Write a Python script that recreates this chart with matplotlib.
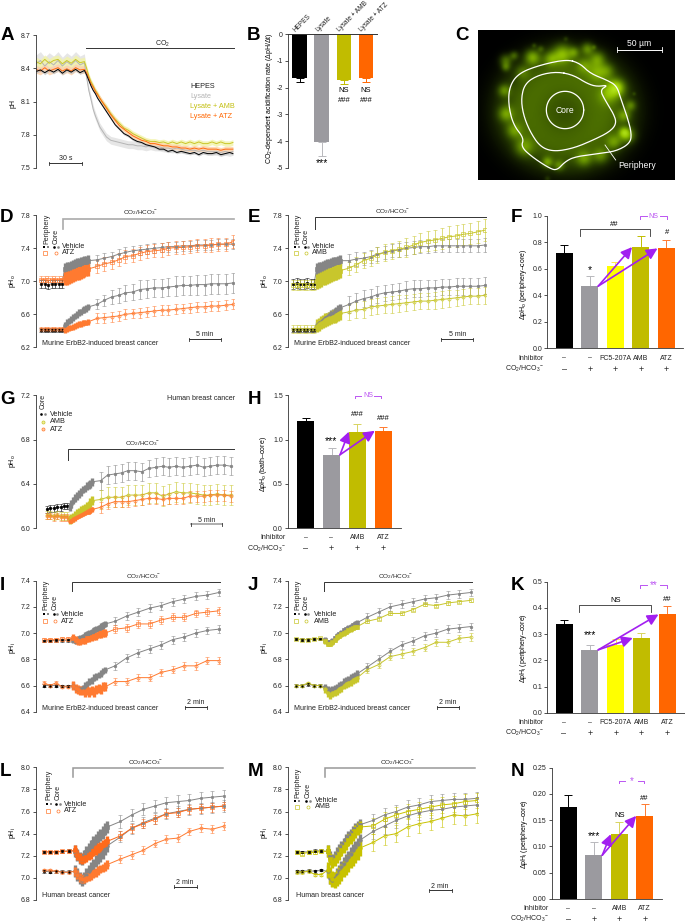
import numpy as np
import matplotlib
matplotlib.use('Agg')
import matplotlib.pyplot as plt
from matplotlib.colors import LinearSegmentedColormap

plt.rcParams['font.family'] = ['Liberation Sans', 'DejaVu Sans']
plt.rcParams['font.size'] = 5
plt.rcParams['mathtext.fontset'] = 'custom'
plt.rcParams['mathtext.rm'] = 'Liberation Sans'
plt.rcParams['mathtext.it'] = 'Liberation Sans'
plt.rcParams['mathtext.bf'] = 'Liberation Sans:bold'
plt.rcParams['mathtext.default'] = 'regular'

BLACK = '#000000'
GREY = '#858585'
BARGREY = '#9b9a9f'
OLIVE = '#c1bc00'
YELLOW = '#ffff00'
ORANGE = '#ff6600'
PURPLE = '#a21ff0'
LILAC = '#bb55f2'
CO2 = 'CO$_2$/HCO$_3$$^{-}$'

# ---- panel A
t_a = [0, 4, 8, 12, 16, 20, 24, 28, 32, 36, 40, 44, 46, 48, 50, 52, 54, 56, 58, 60,
       64, 68, 72, 76, 80, 84, 88, 92, 96, 100, 104, 108, 112, 116, 120, 124, 128, 132,
       136, 140, 144, 148, 152, 156, 160, 164, 168, 172, 176, 179]
a_hepes = [8.37, 8.385, 8.36, 8.385, 8.365, 8.39, 8.355, 8.385, 8.365, 8.39, 8.36, 8.38,
           8.34, 8.29, 8.24, 8.20, 8.17, 8.13, 8.10, 8.07,
           8.01, 7.95, 7.89, 7.85, 7.81, 7.79, 7.76, 7.74, 7.73, 7.71, 7.70, 7.69, 7.67, 7.67, 7.65,
           7.66, 7.64, 7.65, 7.64, 7.63, 7.64, 7.62, 7.64, 7.63, 7.63, 7.64, 7.62, 7.63, 7.64, 7.63]
a_lysate = [8.44, 8.47, 8.42, 8.46, 8.43, 8.47, 8.42, 8.46, 8.43, 8.47, 8.43, 8.45,
            8.32, 8.20, 8.12, 8.03, 7.97, 7.92, 7.87, 7.84,
            7.78, 7.75, 7.74, 7.73, 7.72, 7.71, 7.71, 7.70, 7.70, 7.69, 7.70, 7.69, 7.69, 7.68, 7.68,
            7.67, 7.68, 7.67, 7.66, 7.66, 7.66, 7.65, 7.66, 7.65, 7.65, 7.65, 7.64, 7.65, 7.64, 7.65]
a_amb = [8.46, 8.44, 8.48, 8.445, 8.47, 8.48, 8.44, 8.47, 8.445, 8.48, 8.45, 8.46,
         8.40, 8.33, 8.28, 8.24, 8.20, 8.17, 8.13, 8.10,
         8.05, 7.99, 7.94, 7.90, 7.86, 7.84, 7.81, 7.79, 7.77, 7.75, 7.74, 7.74, 7.73, 7.735, 7.72,
         7.735, 7.72, 7.735, 7.72, 7.735, 7.72, 7.735, 7.72, 7.72, 7.735, 7.72, 7.735, 7.72, 7.72, 7.73]
a_atz = [8.39, 8.375, 8.405, 8.375, 8.39, 8.405, 8.375, 8.395, 8.375, 8.405, 8.385, 8.39,
         8.36, 8.31, 8.26, 8.23, 8.19, 8.16, 8.13, 8.10,
         8.04, 7.98, 7.93, 7.88, 7.85, 7.82, 7.79, 7.77, 7.75, 7.74, 7.72, 7.72, 7.71, 7.70, 7.70,
         7.69, 7.69, 7.68, 7.68, 7.67, 7.68, 7.67, 7.68, 7.67, 7.67, 7.67, 7.66, 7.67, 7.67, 7.67]

# ---- panel B
b_names = ['HEPES', 'Lysate', 'Lysate + AMB', 'Lysate + ATZ']
b_vals = [-1.62, -4.05, -1.70, -1.62]
b_errs = [0.15, 0.50, 0.15, 0.18]

# ---- time points for the pH traces (minutes from the start of CO2/HCO3-)
t_slow = [-3.3, -2.75, -2.2, -1.65, -1.1, -0.55, -0.1,
          0.3, 0.6, 0.9, 1.2, 1.5, 1.8, 2.1, 2.4, 2.7, 3.0, 3.3, 3.6, 3.9,
          5.2, 6.3, 7.4, 8.5, 9.5, 10.6, 11.7, 12.8, 13.9, 15.0, 16.0, 17.1, 18.2, 19.3,
          20.4, 21.5, 22.5, 23.6, 24.7, 25.8]
t_fast = [-2.46, -1.96, -1.43, -0.9, -0.4,
          0.1, 0.3, 0.5, 0.7, 0.9, 1.1, 1.3, 1.5, 1.7, 1.9, 2.1, 2.3, 2.5, 2.7, 2.9,
          3.75, 4.76, 5.77, 6.78, 7.79, 8.8, 9.81, 10.82, 11.83, 12.85]
t_lm = [-2.5, -2.0, -1.45, -0.9, -0.35,
        0.2, 0.4, 0.6, 0.8, 1.0, 1.2, 1.4, 1.6, 1.8, 2.0, 2.2, 2.4, 2.6, 2.8, 3.0,
        4.15, 5.15, 6.15, 7.15, 8.15, 9.15, 10.15, 11.15, 12.15, 13.2]

# ---- panel D
d_veh_per = [6.97, 6.97, 6.96, 6.97, 6.97, 6.97, 6.97,
             7.15, 7.16, 7.17, 7.18, 7.19, 7.20, 7.21, 7.21, 7.22, 7.23, 7.24, 7.24, 7.25,
             7.26, 7.28, 7.30, 7.33, 7.35, 7.37, 7.38, 7.39, 7.40, 7.41, 7.42, 7.42, 7.43, 7.43, 7.44, 7.44, 7.44, 7.45, 7.45, 7.45]
d_veh_core = [6.41, 6.41, 6.41, 6.41, 6.41, 6.41, 6.41,
              6.47, 6.50, 6.52, 6.54, 6.56, 6.58, 6.60, 6.62, 6.63, 6.65, 6.66, 6.67, 6.69,
              6.72, 6.77, 6.81, 6.83, 6.86, 6.87, 6.90, 6.91, 6.92, 6.92, 6.93, 6.94, 6.95, 6.95, 6.96, 6.96, 6.97, 6.97, 6.97, 6.98]
d_atz_per = [7.02, 7.02, 7.01, 7.02, 7.02, 7.02, 7.02,
             7.03, 7.04, 7.05, 7.06, 7.07, 7.08, 7.09, 7.10, 7.11, 7.12, 7.13, 7.14, 7.15,
             7.18, 7.21, 7.23, 7.26, 7.30, 7.31, 7.34, 7.36, 7.37, 7.38, 7.40, 7.41, 7.41, 7.42, 7.43, 7.43, 7.44, 7.45, 7.45, 7.48]
d_atz_core = [6.42, 6.42, 6.42, 6.42, 6.42, 6.42, 6.42,
              6.41, 6.42, 6.43, 6.44, 6.45, 6.46, 6.47, 6.48, 6.48, 6.49, 6.50, 6.50, 6.51,
              6.55, 6.56, 6.57, 6.58, 6.60, 6.61, 6.62, 6.63, 6.64, 6.65, 6.65, 6.66, 6.67, 6.68, 6.69, 6.69, 6.70, 6.70, 6.71, 6.72]

# ---- panel E
e_veh_per = [6.97, 6.98, 6.97, 6.97, 6.98, 6.97, 6.97,
             7.15, 7.16, 7.17, 7.18, 7.19, 7.20, 7.20, 7.21, 7.22, 7.23, 7.23, 7.24, 7.25,
             7.25, 7.27, 7.28, 7.30, 7.33, 7.35, 7.37, 7.38, 7.40, 7.41, 7.42, 7.42, 7.43, 7.43, 7.43, 7.43, 7.43, 7.43, 7.43, 7.44]
e_veh_core = [6.41, 6.41, 6.41, 6.41, 6.41, 6.41, 6.41,
              6.47, 6.49, 6.51, 6.53, 6.55, 6.57, 6.59, 6.61, 6.62, 6.64, 6.65, 6.67, 6.68,
              6.72, 6.76, 6.79, 6.81, 6.84, 6.86, 6.87, 6.88, 6.90, 6.91, 6.91, 6.92, 6.92, 6.93, 6.93, 6.94, 6.94, 6.94, 6.94, 6.95]
e_amb_per = [6.95, 6.95, 6.96, 6.95, 6.95, 6.95, 6.95,
             7.00, 7.01, 7.02, 7.04, 7.05, 7.06, 7.07, 7.08, 7.09, 7.10, 7.11, 7.12, 7.13,
             7.16, 7.20, 7.25, 7.28, 7.32, 7.35, 7.37, 7.39, 7.41, 7.44, 7.47, 7.49, 7.50, 7.52, 7.54, 7.55, 7.57, 7.58, 7.60, 7.62]
e_amb_core = [6.42, 6.42, 6.42, 6.42, 6.42, 6.42, 6.42,
              6.46, 6.48, 6.50, 6.51, 6.53, 6.54, 6.55, 6.56, 6.57, 6.58, 6.59, 6.60, 6.61,
              6.63, 6.65, 6.66, 6.69, 6.70, 6.71, 6.72, 6.73, 6.74, 6.75, 6.76, 6.76, 6.77, 6.78, 6.79, 6.80, 6.81, 6.82, 6.82, 6.83]

# ---- panel G
g_veh = [6.17, 6.18, 6.18, 6.19, 6.19, 6.20, 6.20,
         6.19, 6.22, 6.25, 6.27, 6.29, 6.31, 6.33, 6.35, 6.36, 6.38, 6.39, 6.40, 6.42,
         6.43, 6.48, 6.49, 6.50, 6.52, 6.52, 6.51, 6.54, 6.55, 6.56, 6.55, 6.56, 6.55, 6.56, 6.57, 6.55, 6.56, 6.57, 6.57, 6.56]
g_amb = [6.12, 6.12, 6.11, 6.12, 6.11, 6.11, 6.11,
         6.08, 6.09, 6.10, 6.12, 6.13, 6.14, 6.16, 6.17, 6.18, 6.20, 6.21, 6.23, 6.25,
         6.26, 6.28, 6.28, 6.28, 6.30, 6.30, 6.30, 6.32, 6.32, 6.29, 6.31, 6.33, 6.32, 6.32, 6.31, 6.30, 6.30, 6.31, 6.30, 6.30]
g_atz = [6.11, 6.11, 6.10, 6.11, 6.10, 6.10, 6.10,
         6.07, 6.07, 6.08, 6.09, 6.10, 6.11, 6.12, 6.13, 6.14, 6.15, 6.15, 6.16, 6.17,
         6.19, 6.22, 6.24, 6.24, 6.24, 6.25, 6.26, 6.27, 6.27, 6.26, 6.27, 6.27, 6.27, 6.29, 6.29, 6.29, 6.30, 6.30, 6.30, 6.29]

# ---- panel I
i_veh_per = [6.94, 6.94, 6.945, 6.945, 6.945,
             6.95, 6.94, 6.95, 6.96, 6.97, 6.98, 6.99, 7.00, 7.01, 7.02, 7.03, 7.04, 7.05, 7.06, 7.07,
             7.09, 7.13, 7.16, 7.19, 7.21, 7.24, 7.26, 7.28, 7.29, 7.31]
i_veh_core = [6.60, 6.60, 6.60, 6.595, 6.595,
              6.60, 6.58, 6.57, 6.57, 6.58, 6.60, 6.61, 6.63, 6.64, 6.66, 6.67, 6.68, 6.69, 6.71, 6.72,
              6.75, 6.81, 6.85, 6.88, 6.91, 6.95, 6.97, 7.00, 7.02, 7.03]
i_atz_per = [6.95, 6.95, 6.95, 6.955, 6.955,
             6.96, 6.95, 6.94, 6.94, 6.95, 6.95, 6.96, 6.96, 6.97, 6.98, 6.98, 6.99, 6.99, 7.00, 7.00,
             7.03, 7.04, 7.07, 7.07, 7.10, 7.12, 7.12, 7.15, 7.16, 7.17]
i_atz_core = [6.62, 6.60, 6.62, 6.59, 6.59,
              6.60, 6.58, 6.57, 6.56, 6.56, 6.55, 6.56, 6.55, 6.56, 6.55, 6.57, 6.58, 6.57, 6.59, 6.59,
              6.63, 6.63, 6.66, 6.66, 6.70, 6.72, 6.75, 6.75, 6.79, 6.79]

# ---- panel J
j_veh_per = [6.955, 6.95, 6.95, 6.955, 6.955,
             6.95, 6.93, 6.93, 6.94, 6.96, 6.98, 6.99, 7.00, 7.02, 7.03, 7.04, 7.05, 7.06, 7.07, 7.08,
             7.12, 7.16, 7.20, 7.22, 7.24, 7.26, 7.27, 7.29, 7.30, 7.31]
j_veh_core = [6.60, 6.60, 6.61, 6.60, 6.60,
              6.59, 6.57, 6.56, 6.57, 6.58, 6.59, 6.60, 6.61, 6.63, 6.64, 6.65, 6.66, 6.67, 6.68, 6.69,
              6.74, 6.80, 6.86, 6.91, 6.94, 6.98, 7.00, 7.03, 7.04, 7.05]
j_amb_per = [6.955, 6.95, 6.95, 6.955, 6.96,
             6.94, 6.92, 6.92, 6.93, 6.95, 6.97, 6.98, 6.99, 7.00, 7.01, 7.02, 7.03, 7.04, 7.05, 7.05,
             7.09, 7.11, 7.15, 7.15, 7.18, 7.22, 7.21, 7.23, 7.24, 7.25]
j_amb_core = [6.60, 6.60, 6.62, 6.60, 6.60,
              6.57, 6.54, 6.53, 6.54, 6.55, 6.56, 6.57, 6.58, 6.60, 6.61, 6.62, 6.63, 6.64, 6.65, 6.66,
              6.72, 6.76, 6.82, 6.84, 6.86, 6.89, 6.93, 6.93, 6.96, 6.97]

# ---- panel L
l_veh_per = [7.235, 7.235, 7.235, 7.24, 7.245,
             7.24, 7.21, 7.18, 7.17, 7.20, 7.23, 7.26, 7.29, 7.32, 7.34, 7.37, 7.39, 7.41, 7.44, 7.46,
             7.51, 7.57, 7.62, 7.65, 7.68, 7.69, 7.70, 7.72, 7.73, 7.74]
l_veh_core = [7.06, 7.055, 7.06, 7.055, 7.055,
              7.06, 7.03, 7.00, 6.98, 7.00, 7.03, 7.06, 7.09, 7.12, 7.15, 7.18, 7.20, 7.23, 7.26, 7.29,
              7.37, 7.45, 7.50, 7.54, 7.58, 7.60, 7.62, 7.63, 7.64, 7.65]
l_atz_per = [7.235, 7.235, 7.235, 7.24, 7.24,
             7.25, 7.21, 7.18, 7.17, 7.18, 7.19, 7.21, 7.22, 7.24, 7.25, 7.27, 7.28, 7.30, 7.31, 7.33,
             7.38, 7.45, 7.49, 7.53, 7.58, 7.59, 7.62, 7.63, 7.64, 7.65]
l_atz_core = [7.07, 7.07, 7.06, 7.05, 7.05,
              7.06, 7.03, 7.00, 6.99, 6.99, 7.00, 7.01, 7.02, 7.04, 7.05, 7.07, 7.08, 7.09, 7.10, 7.12,
              7.17, 7.21, 7.25, 7.31, 7.35, 7.36, 7.42, 7.45, 7.44, 7.47]

# ---- panel M
m_veh_per = [7.235, 7.235, 7.235, 7.245, 7.245,
             7.24, 7.19, 7.16, 7.19, 7.22, 7.25, 7.28, 7.31, 7.34, 7.37, 7.39, 7.41, 7.44, 7.46, 7.48,
             7.52, 7.57, 7.60, 7.64, 7.66, 7.69, 7.70, 7.71, 7.71, 7.72]
m_veh_core = [7.06, 7.06, 7.065, 7.06, 7.07,
              7.06, 7.00, 6.98, 7.00, 7.03, 7.06, 7.10, 7.13, 7.16, 7.19, 7.22, 7.25, 7.28, 7.31, 7.34,
              7.42, 7.47, 7.52, 7.56, 7.59, 7.61, 7.62, 7.64, 7.65, 7.66]
m_amb_per = [7.23, 7.22, 7.23, 7.23, 7.24,
             7.24, 7.17, 7.14, 7.16, 7.19, 7.22, 7.25, 7.28, 7.31, 7.34, 7.36, 7.39, 7.42, 7.44, 7.46,
             7.47, 7.53, 7.57, 7.60, 7.62, 7.64, 7.66, 7.67, 7.69, 7.70]
m_amb_core = [7.05, 7.05, 7.06, 7.03, 7.03,
              7.07, 7.02, 6.99, 6.98, 7.00, 7.02, 7.05, 7.08, 7.10, 7.13, 7.16, 7.18, 7.21, 7.24, 7.27,
              7.32, 7.38, 7.40, 7.46, 7.49, 7.51, 7.54, 7.57, 7.56, 7.58]

# ---- bar panels
f_vals = [0.72, 0.47, 0.62, 0.765, 0.755]
f_errs = [0.06, 0.075, 0.035, 0.085, 0.06]
f_inhib = ['–', '–', 'FC5-207A', 'AMB', 'ATZ']
f_co2 = ['–', '+', '+', '+', '+']
h_vals = [1.21, 0.83, 1.09, 1.10]
h_errs = [0.03, 0.075, 0.09, 0.04]
h_inhib = ['–', '–', 'AMB', 'ATZ']
h_co2 = ['–', '+', '+', '+']
k_vals = [0.34, 0.24, 0.26, 0.285, 0.375]
k_errs = [0.013, 0.017, 0.02, 0.02, 0.034]
n_vals = [0.175, 0.083, 0.123, 0.158]
n_errs = [0.023, 0.025, 0.023, 0.022]

# ---- panel C picture, given in units of 1/3 pixel: x, y, radius, brightness
c_spots = [(165, 135, 13, .34), (190, 120, 9, .28), (245, 125, 16, .48), (270, 100, 7, .18), (335, 115, 20, .5),
           (370, 110, 11, .3), (410, 100, 13, .38), (440, 130, 16, .38), (470, 165, 15, .24), (500, 215, 16, .34),
           (540, 270, 11, .3), (520, 300, 13, .34), (530, 360, 16, .42), (490, 220, 20, .32), (160, 225, 13, .34),
           (165, 295, 16, .38), (190, 345, 16, .32), (220, 395, 19, .34), (290, 440, 11, .38), (325, 450, 11, .3),
           (400, 430, 16, .32), (450, 420, 16, .3), (490, 380, 16, .34), (165, 155, 9, .28), (215, 170, 15, .22),
           (300, 130, 15, .34), (440, 170, 19, .32), (470, 240, 19, .22), (520, 350, 11, .4), (400, 150, 16, .28),
           (345, 70, 5, .12), (250, 90, 5, .15), (430, 95, 5, .18), (550, 235, 4, .12), (290, 490, 6, .12)]
c_outer = [(350, 133), (390, 145), (420, 175), (470, 195), (500, 212), (512, 250), (530, 300), (545, 355),
           (540, 385), (500, 408), (450, 415), (375, 425), (345, 440), (320, 467), (295, 458), (245, 425),
           (213, 395), (222, 370), (190, 330), (175, 270), (178, 215), (205, 175), (270, 150)]
c_inner = [(320, 170), (370, 180), (410, 205), (440, 215), (475, 210), (450, 225), (465, 255), (490, 295),
           (500, 325), (480, 350), (430, 375), (370, 400), (310, 410), (270, 395), (240, 350), (220, 300),
           (213, 250), (225, 205), (265, 180)]

fig = plt.figure(figsize=(6.85, 9.24), dpi=100)


def px_axes(left, right, top, bottom):
    ax = fig.add_axes([left / 685, 1 - bottom / 924, (right - left) / 685, (bottom - top) / 924])
    ax.patch.set_alpha(0)
    for s in ['top', 'right']:
        ax.spines[s].set_visible(False)
    for s in ax.spines.values():
        s.set_linewidth(0.6)
        s.set_color('#333333')
    ax.tick_params(length=2.2, width=0.6, pad=1.5, labelsize=5, color='#333333', labelcolor='#222222')
    return ax


def trace_axes(left, right, top, bottom, ylim, yticks, t0_px, px_per_min):
    ax = px_axes(left, right, top, bottom)
    ax.set_xlim((left - t0_px) / px_per_min, (right - t0_px) / px_per_min)
    ax.set_ylim(*ylim)
    ax.set_yticks(yticks)
    ax.set_yticklabels(['%.1f' % v for v in yticks])
    ax.spines['bottom'].set_visible(False)
    ax.set_xticks([])
    return ax


def series(ax, t, vals, n_base, n_blob, errs, color, marker, vehicle=False):
    # baseline, dense part after the switch, sparse late part
    t = np.array(t)
    vals = np.array(vals)
    ax.plot(t, vals, color=color, lw=0.7, zorder=3)
    parts = [(0, n_base), (n_base, n_base + n_blob), (n_base + n_blob, len(t))]
    for k, (a, b) in enumerate(parts):
        c = BLACK if (vehicle and k == 0) else color
        ax.errorbar(t[a:b], vals[a:b], yerr=errs[k], fmt='none', ecolor=c, capsize=0 if k == 1 else 1.1,
                    elinewidth=2.4 if k == 1 else 0.6, capthick=0.5, alpha=1 if k == 1 else 0.7, zorder=3)
        filled = vehicle or k == 1
        face = c if filled else 'none'
        ax.plot(t[a:b], vals[a:b], ls='none', marker=marker, ms=2.6 if k == 1 else (1.9 if filled else 2.2),
                mfc=face, mec=c, mew=0.45, zorder=4)


def deco(ov, co2_x, co2_y, bar_x0, bar_x1, bar_y, tick_y, bar_col, bar_lw):
    ov.text(co2_x, co2_y, CO2, ha='center', va='center', fontsize=4.6, color='#222222')
    ov.plot([bar_x0, bar_x0, bar_x1], [tick_y, bar_y, bar_y], color=bar_col, lw=bar_lw, solid_joinstyle='miter')


def scale(ov, x0, x1, y, label, ty, col='#333333', lw=0.7):
    ov.plot([x0, x1], [y, y], color=col, lw=lw)
    ov.plot([x0, x0], [y - 1.5, y + 1.5], color='#333333', lw=0.6)
    ov.plot([x1, x1], [y - 1.5, y + 1.5], color='#333333', lw=0.6)
    ov.text((x0 + x1) / 2, ty, label, ha='center', va='center', fontsize=5, color='#222222')


def legend2(ov, xp, xc, tx, y1, y2, ybot, col, name):
    ov.text(xp, ybot, 'Periphery', rotation=90, ha='center', va='bottom', fontsize=5, color='#222222')
    ov.text(xc, ybot, 'Core', rotation=90, ha='center', va='bottom', fontsize=5, color='#222222')
    ov.plot([xp - 2.5], [y1], 's', ms=1.9, color=BLACK, mew=0)
    ov.plot([xp + 1.5], [y1], 's', ms=1.9, color=GREY, mew=0)
    ov.plot([xc - 1.5], [y1], 'o', ms=1.9, color=BLACK, mew=0)
    ov.plot([xc + 2], [y1], 'o', ms=1.9, color=GREY, mew=0)
    ov.plot([xp - 1], [y2], 's', ms=2.2, mfc='none', mec=col, mew=0.5)
    ov.plot([xc], [y2], 'o', ms=2.2, mfc='none', mec=col, mew=0.5)
    ov.text(tx, y1, 'Vehicle', va='center', fontsize=5.2, color='#222222')
    ov.text(tx, y2, name, va='center', fontsize=5.2, color='#222222')


def bars(left, right, top, bottom, centers, vals, errs, cols, ylim, yticks, fmt, ecols=None, bw=17.0):
    ax = px_axes(left, right, top, bottom)
    xs = np.arange(len(vals))
    sp = (centers[-1] - centers[0]) / (len(vals) - 1)
    ax.set_xlim((left - centers[0]) / sp, (right - centers[0]) / sp)
    ax.set_ylim(*ylim)
    ax.set_yticks(yticks)
    ax.set_yticklabels([fmt % v for v in yticks])
    ax.set_xticks([])
    w = bw / sp
    ax.bar(xs, vals, width=w, color=cols, zorder=2)
    ecols = ecols or cols
    for x, v, e, c in zip(xs, vals, errs, ecols):
        if v >= 0:
            ax.errorbar(x, v, yerr=[[0], [e]], fmt='none', ecolor=c, elinewidth=0.7, capsize=3.2, capthick=0.7, zorder=1)
        else:
            ax.errorbar(x, v, yerr=[[e], [0]], fmt='none', ecolor=c, elinewidth=0.7, capsize=3.2, capthick=0.7, zorder=1)
    return ax, w


def arrow(ax, x0, y0, x1, y1):
    ax.annotate('', xy=(x1, y1), xytext=(x0, y0), annotation_clip=False, zorder=6,
                arrowprops=dict(arrowstyle='-|>,head_width=0.3,head_length=0.6', color=PURPLE, lw=1.2,
                                shrinkA=0, shrinkB=0, mutation_scale=11))


def rows(ov, right, y1, y2, centers, inhib, co2):
    ov.text(right, y1, 'Inhibitor', ha='right', va='center', fontsize=5, color='#222222')
    ov.text(right, y2, CO2, ha='right', va='center', fontsize=5, color='#222222')
    for c, a, b in zip(centers, inhib, co2):
        ov.text(c, y1, a, ha='center', va='center', fontsize=5, color='#222222')
        ov.text(c, y2, b, ha='center', va='center', fontsize=6.5, color='#222222')


def bracket(ov, x0, x1, y, tick, col='#333333', lw=0.6):
    ov.plot([x0, x0, x1, x1], [y + tick, y, y, y + tick], color=col, lw=lw)


def purple_ns(ov, x0, x1, y, label, fs=5):
    mid = (x0 + x1) / 2
    gap = 6.5
    ov.plot([x0, x0, mid - gap], [y + 2.5, y, y], color=LILAC, lw=0.7)
    ov.plot([mid + gap, x1, x1], [y, y, y + 2.5], color=LILAC, lw=0.7)
    ov.text(mid, y, label, ha='center', va='center', fontsize=fs, color=LILAC)


def smooth(pts, n=3):
    # corner cutting for the outlines of panel C
    p = np.array(pts, dtype=float)
    for _ in range(n):
        q = np.roll(p, -1, axis=0)
        p = np.column_stack([0.75 * p + 0.25 * q, 0.25 * p + 0.75 * q]).reshape(-1, 2)
    return np.vstack([p, p[:1]])


# ---- A
ax_a = trace_axes(36, 234, 35, 168, (7.5, 8.7), [7.5, 7.8, 8.1, 8.4, 8.7], 36, 1.1)
t_arr = np.array(t_a)
for v, col, band, sd0, sd1 in [(a_lysate, '#b5b5b5', '#e0e0e0', 0.08, 0.035), (a_amb, '#c9c62a', '#f2f3a8', 0.04, 0.025),
                               (a_atz, '#ff6a10', '#ffd0a6', 0.035, 0.025), (a_hepes, BLACK, '#c4c4c4', 0.015, 0.012)]:
    sd = np.where(t_arr < 45, sd0, sd1)
    ax_a.fill_between(t_arr, np.array(v) - sd, np.array(v) + sd, color=band, lw=0, alpha=0.8)
    ax_a.plot(t_arr, v, color=col, lw=0.7)
ax_a.set_xlim(0, 180)

# ---- B
ax_b, wb = bars(288, 377, 34.3, 167.7, [299.7, 321.7, 344, 366], b_vals, b_errs, [BLACK, BARGREY, OLIVE, ORANGE],
                (-5, 0), [0, -1, -2, -3, -4, -5], '%d', [BLACK, '#b8b8bc', OLIVE, ORANGE], bw=14.7)
ax_b.spines['bottom'].set_visible(False)
ax_b.spines['top'].set_visible(True)
ax_b.spines['top'].set_linewidth(0.7)
ax_b.spines['top'].set_color('#333333')

# ---- C
ax_c = fig.add_axes([477.7 / 685, 1 - 180 / 924, 196.3 / 685, 150 / 924])
cx = np.arange(83, 672, 3.0)
cy = np.arange(45, 495, 3.0)
gx, gy = np.meshgrid(cx, cy)
img = 0.5 * np.exp(-((gx - 345) ** 2 / (2 * 140.0 ** 2) + (gy - 285) ** 2 / (2 * 125.0 ** 2)) ** 2.0)
img -= 0.2 * np.exp(-((gx - 340) ** 2 + (gy - 290) ** 2) / (2 * 65.0 ** 2))
for sx, sy, r, a in c_spots:
    img += a * np.exp(-((gx - sx) ** 2 + (gy - sy) ** 2) / (2.0 * r ** 2))
cmap = LinearSegmentedColormap.from_list('c', ['#000000', '#2c4400', '#5d8600', '#93c400', '#b5e61d'])
ax_c.imshow(np.clip(img, 0, 1), cmap=cmap, vmin=0, vmax=1, extent=[83, 672, 495, 45], aspect='auto', interpolation='bilinear')
for pts in (c_outer, c_inner):
    p = smooth(pts)
    ax_c.plot(p[:, 0], p[:, 1], color='white', lw=0.9)
ang = np.linspace(0, 2 * np.pi, 80)
ax_c.plot(345 + 56 * np.cos(ang), 285 + 56 * np.sin(ang), color='white', lw=0.9)
ax_c.plot([465, 497], [390, 435], color='white', lw=0.6)
ax_c.plot([502, 636], [104, 104], color='white', lw=0.7)
ax_c.plot([502, 502], [96, 112], color='white', lw=0.6)
ax_c.plot([636, 636], [96, 112], color='white', lw=0.6)
ax_c.text(568, 87, '50 µm', color='white', ha='center', va='center', fontsize=6.2)
ax_c.text(345, 286, 'Core', color='white', ha='center', va='center', fontsize=6.2)
ax_c.text(560, 450, 'Periphery', color='white', ha='center', va='center', fontsize=6.2)
ax_c.set_xlim(83, 672)
ax_c.set_ylim(495, 45)
ax_c.axis('off')

# ---- D, E
ysl = (6.2, 7.8)
ytk = [6.2, 6.6, 7.0, 7.4, 7.8]
ax_d = trace_axes(36, 234, 215.3, 347.3, ysl, ytk, 62.7, 6.6)
series(ax_d, t_slow, d_veh_per, 7, 13, (0.05, 0.07, 0.06), GREY, 's', True)
series(ax_d, t_slow, d_veh_core, 7, 13, (0.025, 0.04, [.06, .07, .08, .09, .10, .10, .11, .11, .11, .11, .11, .12, .12, .12, .12, .12, .12, .12, .12, .12]), GREY, 'o', True)
series(ax_d, t_slow, d_atz_per, 7, 13, (0.05, 0.08, 0.08), '#ff7a30', 's')
series(ax_d, t_slow, d_atz_core, 7, 13, (0.025, 0.035, 0.06), '#ff7a30', 'o')

ax_e = trace_axes(287.7, 485.7, 215.3, 347.3, ysl, ytk, 314.7, 6.6)
series(ax_e, t_slow, e_veh_per, 7, 13, (0.06, 0.07, 0.08), GREY, 's', True)
series(ax_e, t_slow, e_veh_core, 7, 13, (0.03, 0.04, 0.10), GREY, 'o', True)
series(ax_e, t_slow, e_amb_per, 7, 13, (0.06, 0.09, [.08, .09, .09, .09, .10, .10, .10, .10, .11, .11, .12, .12, .12, .13, .13, .13, .13, .13, .13, .13]), '#c8c62c', 's')
series(ax_e, t_slow, e_amb_core, 7, 13, (0.05, 0.08, 0.10), '#c8c62c', 'o')

# ---- F
cf = [564.3, 589.7, 615.3, 640.7, 666]
ax_f, wf = bars(547.3, 683, 216, 348.3, cf, f_vals, f_errs, [BLACK, BARGREY, YELLOW, OLIVE, ORANGE],
                (0, 1.0), [0, .2, .4, .6, .8, 1.0], '%.1f', [BLACK, '#b8b8bc', '#ffe94a', OLIVE, '#ff7a30'])
arrow(ax_f, 1 + wf / 2, f_vals[1], 3 - wf / 2, f_vals[3])
arrow(ax_f, 1 + wf / 2, f_vals[1], 4 - wf / 2, f_vals[4])

# ---- G
ax_g = trace_axes(36, 234, 395.3, 528.3, (6.0, 7.2), [6.0, 6.4, 6.8, 7.2], 67.7, 6.33)
series(ax_g, t_slow, g_veh, 7, 13, (0.03, 0.035, 0.08), GREY, 'o', True)
series(ax_g, t_slow, g_amb, 7, 13, (0.035, 0.04, 0.09), '#c8c62c', 'o')
series(ax_g, t_slow, g_atz, 7, 13, (0.03, 0.02, 0.05), '#ff7a30', 'o')

# ---- H
ch = [305.7, 331.3, 357.3, 383.3]
ax_h, wh = bars(288, 400.7, 395.3, 528.3, ch, h_vals, h_errs, [BLACK, BARGREY, OLIVE, ORANGE],
                (0, 1.5), [0, .5, 1.0, 1.5], '%.1f', [BLACK, '#b8b8bc', '#d8d460', '#ff7a30'])
arrow(ax_h, 1 + wh / 2, h_vals[1], 2 - wh / 2, h_vals[2])
arrow(ax_h, 1 + wh / 2, h_vals[1], 3 - wh / 2, h_vals[3])

# ---- I, J
yfi = (6.4, 7.4)
tki = [6.4, 6.6, 6.8, 7.0, 7.2, 7.4]
ax_i = trace_axes(36, 220.5, 580.7, 711.7, yfi, tki, 72.3, 11.4)
series(ax_i, t_fast, i_veh_per, 5, 15, (0.01, 0.025, 0.03), GREY, 's', True)
series(ax_i, t_fast, i_veh_core, 5, 15, (0.01, 0.025, 0.03), GREY, 'o', True)
series(ax_i, t_fast, i_atz_per, 5, 15, (0.012, 0.03, 0.03), '#ff7a30', 's')
series(ax_i, t_fast, i_atz_core, 5, 15, (0.012, 0.035, 0.028), '#ff7a30', 'o')

ax_j = trace_axes(287.7, 472.5, 580.7, 711.7, yfi, tki, 324.3, 11.4)
series(ax_j, t_fast, j_veh_per, 5, 15, (0.01, 0.02, 0.03), GREY, 's', True)
series(ax_j, t_fast, j_veh_core, 5, 15, (0.01, 0.025, 0.03), GREY, 'o', True)
series(ax_j, t_fast, j_amb_per, 5, 15, (0.008, 0.02, 0.012), '#c8c62c', 's')
series(ax_j, t_fast, j_amb_core, 5, 15, (0.01, 0.03, 0.028), '#c8c62c', 'o')

# ---- K
ck = [564, 589.7, 615.7, 641.3, 667]
ax_k, wk = bars(547.3, 685, 581.7, 712.7, ck, k_vals, k_errs, [BLACK, BARGREY, YELLOW, OLIVE, ORANGE],
                (0, 0.5), [0, .1, .2, .3, .4, .5], '%.1f', [BLACK, '#b8b8bc', '#ffe94a', '#d8d460', '#ff7a30'])
arrow(ax_k, 1 + wk / 2, k_vals[1], 3 - wk / 2, k_vals[3])
arrow(ax_k, 1 + wk / 2, k_vals[1], 4 - wk / 2, k_vals[4])

# ---- L, M
yfl = (6.8, 8.0)
tkl = [6.8, 7.0, 7.2, 7.4, 7.6, 7.8, 8.0]
ax_l = trace_axes(36, 225, 767.3, 900, yfl, tkl, 72.7, 11.5)
series(ax_l, t_lm, l_veh_per, 5, 15, (0.012, 0.055, 0.055), GREY, 's', True)
series(ax_l, t_lm, l_veh_core, 5, 15, (0.012, 0.055, 0.05), GREY, 'o', True)
series(ax_l, t_lm, l_atz_per, 5, 15, (0.012, 0.045, 0.04), '#ff6a1a', 's')
series(ax_l, t_lm, l_atz_core, 5, 15, (0.012, 0.04, 0.035), '#ff7a30', 'o')

ax_m = trace_axes(287.7, 477.5, 767.3, 900, yfl, tkl, 325.3, 11.5)
series(ax_m, t_lm, m_veh_per, 5, 15, (0.012, 0.055, 0.06), GREY, 's', True)
series(ax_m, t_lm, m_veh_core, 5, 15, (0.012, 0.055, 0.07), GREY, 'o', True)
series(ax_m, t_lm, m_amb_per, 5, 15, (0.015, 0.055, 0.07), '#c8c200', 's')
series(ax_m, t_lm, m_amb_core, 5, 15, (0.015, 0.075, 0.08), '#c8c200', 'o')

# ---- N
cn = [568.3, 593.7, 619.3, 644.7]
ax_n, wn = bars(551.7, 662, 767.7, 898.7, cn, n_vals, n_errs, [BLACK, BARGREY, OLIVE, ORANGE],
                (0, 0.25), [0, .05, .10, .15, .20, .25], '%.2f', [BLACK, '#b8b8bc', '#d8d460', '#ff7a30'])
arrow(ax_n, 1 + wn / 2, n_vals[1], 2 - wn / 2, n_vals[2])
arrow(ax_n, 1 + wn / 2, n_vals[1], 3 - wn / 2, n_vals[3])

# ---- everything else in figure pixels
ov = fig.add_axes([0, 0, 1, 1], zorder=20)
ov.set_xlim(0, 685)
ov.set_ylim(924, 0)
ov.axis('off')

letters = [('A', 1, 35), ('B', 247, 35), ('C', 455, 36), ('D', 0, 218), ('E', 248, 218), ('F', 510.7, 217),
           ('G', 0, 400), ('H', 248, 400), ('I', 0, 585), ('J', 248, 585), ('K', 510.7, 586),
           ('L', 0, 772), ('M', 248, 772), ('N', 510.7, 772)]
for s, x, y in letters:
    ov.text(x, y, s, fontsize=13.5, fontweight='bold', ha='left', va='center', color=BLACK)

# A
ov.text(162, 43.5, 'CO$_2$', ha='center', va='center', fontsize=5, color='#222222')
ov.plot([86, 233.7], [48.3, 48.3], color='#333333', lw=0.7)
scale(ov, 49.3, 82.3, 163.3, '30 s', 159)
for s, y, c in [('HEPES', 86, '#222222'), ('Lysate', 96.7, '#b5b5b5'), ('Lysate + AMB', 106.7, '#c3bf10'), ('Lysate + ATZ', 116.7, ORANGE)]:
    ov.text(190, y, s, color=c, va='center', fontsize=5.2)
ov.text(13.3, 103, 'pH', rotation=90, ha='center', va='center')

# B
for c, s in zip([299.7, 321.7, 344, 366], b_names):
    ov.text(c - 2.5, 33.5, s, rotation=45, ha='left', va='bottom', rotation_mode='anchor', fontsize=4.7, color='#222222')
ov.text(269.3, 98, 'CO$_2$-dependent acidification rate (ΔpH/Δt)', rotation=90, ha='center', va='center')
ov.text(321.7, 163, '***', ha='center', va='center', fontsize=7.5)
for c in [344, 366]:
    ov.text(c, 91, 'NS', ha='center', va='center', fontsize=5.5)
    ov.text(c, 101, '###', ha='center', va='center', fontsize=5.5)

# D, E
deco(ov, 141, 212.3, 62.7, 234, 219, 229.3, '#aaaaaa', 1.2)
deco(ov, 393, 212, 314.7, 485.7, 216.5, 229.3, '#333333', 0.7)
legend2(ov, 46.5, 56, 61.5, 246.7, 253, 244, '#ff7a30', 'ATZ')
legend2(ov, 297.5, 306.5, 312, 246.5, 253, 243.5, '#c8c62c', 'AMB')
ov.text(12.7, 281.7, 'pH$_o$', rotation=90, ha='center', va='center')
ov.text(264.5, 281.7, 'pH$_o$', rotation=90, ha='center', va='center')
ov.text(42, 343.7, 'Murine ErbB2-induced breast cancer', va='center', fontsize=5.1, color='#222222')
ov.text(294, 343.7, 'Murine ErbB2-induced breast cancer', va='center', fontsize=5.1, color='#222222')
scale(ov, 188.7, 221.3, 339.3, '5 min', 335)
scale(ov, 441, 473.5, 339.3, '5 min', 335)

# F
rows(ov, 544, 358, 369.3, cf, f_inhib, f_co2)
ov.text(523.3, 284, 'ΔpH$_o$ (periphery–core)', rotation=90, ha='center', va='center')
ov.text(589.7, 270, '*', ha='center', va='center', fontsize=7.5)
bracket(ov, 580, 650.3, 229.3, 6.5)
ov.text(614, 225, '##', ha='center', va='center', fontsize=5.5)
ov.text(666.7, 233, '#', ha='center', va='center', fontsize=5.5)
purple_ns(ov, 640.3, 667.3, 216, 'NS')

# G
deco(ov, 142.7, 443.3, 67.7, 234, 449, 460.3, '#333333', 0.7)
ov.text(43, 409, 'Core', rotation=90, ha='center', va='bottom', fontsize=5, color='#222222')
ov.plot([41.5], [414.3], 'o', ms=1.9, color=BLACK, mew=0)
ov.plot([45], [414.3], 'o', ms=1.9, color=GREY, mew=0)
ov.plot([43], [421.7], 'o', ms=2.2, mfc='#eeee99', mec='#c8c62c', mew=0.5)
ov.plot([43], [429.3], 'o', ms=2.2, mfc='#ffd0a8', mec='#ff7a30', mew=0.5)
for s, y in [('Vehicle', 414.3), ('AMB', 421.7), ('ATZ', 429.3)]:
    ov.text(50, y, s, va='center', fontsize=5.2, color='#222222')
ov.text(235, 399, 'Human breast cancer', ha='right', va='center', fontsize=5.1, color='#222222')
ov.text(12.7, 461, 'pH$_o$', rotation=90, ha='center', va='center')
scale(ov, 190.7, 222.3, 524.3, '5 min', 520.5, '#999999', 1.1)

# H
rows(ov, 286, 537.7, 549, ch, h_inhib, h_co2)
ov.text(264, 464, 'ΔpH$_o$ (bath–core)', rotation=90, ha='center', va='center')
ov.text(331.3, 441, '***', ha='center', va='center', fontsize=7.5)
ov.text(357.3, 415, '###', ha='center', va='center', fontsize=5.5)
ov.text(383.3, 418.3, '###', ha='center', va='center', fontsize=5.5)
purple_ns(ov, 355, 381, 395.7, 'NS')

# I, J
deco(ov, 144, 576.7, 72.3, 220, 582.3, 590.7, '#333333', 0.7)
deco(ov, 396, 576.7, 324.3, 472, 582.3, 590.7, '#333333', 0.7)
legend2(ov, 46.3, 55.3, 61, 614, 621.3, 610, '#ff7a30', 'ATZ')
legend2(ov, 297.5, 306.5, 314, 614, 621.3, 610, '#c8c62c', 'AMB')
ov.text(12.7, 648.3, 'pH$_i$', rotation=90, ha='center', va='center')
ov.text(264.3, 648.3, 'pH$_i$', rotation=90, ha='center', va='center')
ov.text(42, 708, 'Murine ErbB2-induced breast cancer', va='center', fontsize=5.1, color='#222222')
ov.text(294, 708, 'Murine ErbB2-induced breast cancer', va='center', fontsize=5.1, color='#222222')
scale(ov, 184.7, 207.3, 707, '2 min', 703)
scale(ov, 436.7, 459.3, 707, '2 min', 703)

# K
rows(ov, 544, 722.3, 733.3, ck, f_inhib, f_co2)
ov.text(523.3, 648.3, 'ΔpH$_i$ (periphery–core)', rotation=90, ha='center', va='center')
ov.text(590, 635.3, '***', ha='center', va='center', fontsize=7.5)
bracket(ov, 578.7, 651, 605, 7)
ov.text(615.3, 601, 'NS', ha='center', va='center', fontsize=5.5)
ov.text(667, 599.7, '##', ha='center', va='center', fontsize=5.5)
purple_ns(ov, 640.3, 666.7, 585.3, '**', 7)

# L, M
deco(ov, 145.7, 762.7, 72.7, 222.7, 768.3, 776.7, '#999999', 1.1)
deco(ov, 397.7, 762.7, 325.3, 475, 768.3, 776.7, '#999999', 1.1)
legend2(ov, 49.3, 58, 64.3, 804, 811, 800.5, '#ff7a30', 'ATZ')
legend2(ov, 297.7, 308, 315, 801, 806.7, 797.5, '#c8c62c', 'AMB')
ov.text(12.7, 833, 'pH$_i$', rotation=90, ha='center', va='center')
ov.text(264.3, 833, 'pH$_i$', rotation=90, ha='center', va='center')
ov.text(42.3, 895.7, 'Human breast cancer', va='center', fontsize=5.1, color='#222222')
ov.text(295.7, 895.7, 'Human breast cancer', va='center', fontsize=5.1, color='#222222')
scale(ov, 173.7, 196.7, 886.7, '2 min', 883)
scale(ov, 428.7, 451.7, 890, '2 min', 886)

# N
rows(ov, 549, 908.3, 919.3, cn, h_inhib, h_co2)
ov.text(524.3, 834, 'ΔpH$_i$ (periphery–core)', rotation=90, ha='center', va='center')
ov.text(593.7, 836, '***', ha='center', va='center', fontsize=7.5)
ov.text(619.3, 815.7, 'NS', ha='center', va='center', fontsize=5.5)
ov.text(644.7, 798.3, '##', ha='center', va='center', fontsize=5.5)
purple_ns(ov, 619, 643.7, 780.7, '*', 7)

fig.savefig('out.png', dpi=100)
